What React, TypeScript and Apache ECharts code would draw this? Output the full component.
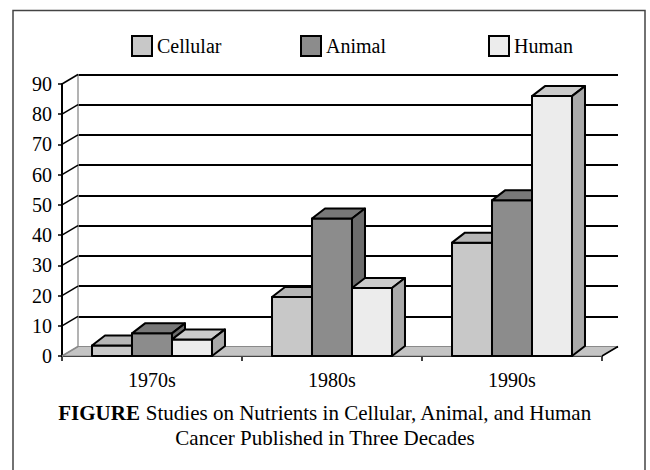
import React, { useEffect, useRef } from 'react';
import * as echarts from 'echarts';

const categories = ['1970s', '1980s', '1990s'];
const seriesNames = ['Cellular', 'Animal', 'Human'];
const cellular = [3.5, 19.5, 37.5];
const animal = [7.5, 45.5, 51.5];
const human = [5.5, 22.5, 86];
const yTicks = [0, 10, 20, 30, 40, 50, 60, 70, 80, 90];

const FONT = '"Liberation Serif", "DejaVu Serif", serif';

// layout constants
const DX = 16;
const DY = 9.5;
const BDX = 13;
const BDY = 10;
const faces = [
  { front: '#c8c8c8', top: '#b6b6b6', side: '#a8a8a8' },
  { front: '#8c8c8c', top: '#787878', side: '#6c6c6c' },
  { front: '#ececec', top: '#cbcbcb', side: '#a9a9a9' },
];
const legendLefts = [131, 300, 488];

export default function App() {
  const ref = useRef<HTMLDivElement>(null);
  useEffect(() => {
    document.body.style.margin = '0';
    const chart = echarts.init(ref.current!, null, { renderer: 'svg' });
    const values = [cellular, animal, human];

    const barSeries = seriesNames.map((name, sIdx) => ({
      name,
      type: 'custom',
      xAxisIndex: 0,
      yAxisIndex: 0,
      z: 5,
      itemStyle: { color: faces[sIdx].front, borderColor: '#000', borderWidth: 2 },
      encode: { x: 0, y: 1 },
      data: values[sIdx].map((v, i) => [i, v]),
      renderItem: (params: any, api: any) => {
        const ci = api.value(0);
        const v = api.value(1);
        const base = api.coord([ci, 0]);
        const tp = api.coord([ci, v]);
        const catW = api.size([1, 0])[0];
        const bw = catW * 0.2222;
        const x0 = base[0] - 1.5 * bw + sIdx * bw;
        const x1 = x0 + bw;
        const y0 = base[1];
        const y1 = tp[1];
        const st = { stroke: '#000', lineWidth: 2, lineJoin: 'round' };
        return {
          type: 'group',
          children: [
            { type: 'polygon', shape: { points: [[x0, y0], [x1, y0], [x1, y1], [x0, y1]] }, style: { ...st, fill: faces[sIdx].front } },
            { type: 'polygon', shape: { points: [[x0, y1], [x1, y1], [x1 + BDX, y1 - BDY], [x0 + BDX, y1 - BDY]] }, style: { ...st, fill: faces[sIdx].top } },
            { type: 'polygon', shape: { points: [[x1, y0], [x1 + BDX, y0 - BDY], [x1 + BDX, y1 - BDY], [x1, y1]] }, style: { ...st, fill: faces[sIdx].side } },
          ],
        };
      },
    }));

    const frameSeries = {
      name: 'frame',
      type: 'custom',
      xAxisIndex: 0,
      yAxisIndex: 0,
      z: 3,
      silent: true,
      encode: { x: 0, y: 1 },
      data: yTicks.map((v) => [0, v]),
      renderItem: (params: any, api: any) => {
        const v = api.value(1);
        const p = api.coord([0, v]);
        const catW = api.size([1, 0])[0];
        const xL = p[0] - catW / 2;
        const y = p[1];
        const children: any[] = [];
        if (v === 0) {
          const xR = xL + catW * categories.length;
          children.push({
            type: 'polygon',
            shape: { points: [[xL, y], [xR, y], [xR + DX, y - DY], [xL + DX, y - DY]] },
            style: { fill: '#c4c4c4', stroke: '#8a8a8a', lineWidth: 1 },
          });
          children.push({
            type: 'line',
            shape: { x1: xR, y1: y, x2: xR + DX, y2: y - DY },
            style: { stroke: '#000', lineWidth: 1.5 },
          });
        }
        children.push({
          type: 'line',
          shape: { x1: xL, y1: y, x2: xL + DX, y2: y - DY },
          style: { stroke: v === 0 ? '#8a8a8a' : '#000', lineWidth: 1.5 },
        });
        return { type: 'group', children };
      },
    };

    chart.setOption({
      animation: false,
      backgroundColor: '#fff',
      title: {
        text: '{b|FIGURE} Studies on Nutrients in Cellular, Animal, and Human\nCancer Published in Three Decades',
        left: 'center',
        top: 400,
        padding: 0,
        textStyle: {
          fontFamily: FONT,
          fontSize: 21,
          fontWeight: 'normal',
          color: '#000',
          lineHeight: 25,
          rich: { b: { fontFamily: FONT, fontSize: 21, fontWeight: 'bold', color: '#000', lineHeight: 25 } },
        },
      },
      legend: seriesNames.map((n, i) => ({
        data: [n],
        left: legendLefts[i],
        top: 35,
        padding: 0,
        itemWidth: 20,
        itemHeight: 20,
        icon: 'rect',
        selectedMode: false,
        itemStyle: { borderColor: '#000', borderWidth: 2 },
        textStyle: { fontFamily: FONT, fontSize: 20, color: '#000' },
      })),
      grid: [
        { left: 62, top: 84, width: 540, height: 272 },
        { left: 62 + DX, top: 84 - DY, width: 540, height: 272 },
      ],
      xAxis: [
        {
          gridIndex: 0,
          type: 'category',
          data: categories,
          boundaryGap: true,
          axisLine: { show: true, lineStyle: { color: '#000', width: 2 } },
          axisTick: { show: true, length: 5, lineStyle: { color: '#000', width: 1.5 } },
          axisLabel: { fontFamily: FONT, fontSize: 20, color: '#000', margin: 14 },
          splitLine: { show: false },
        },
        { gridIndex: 1, type: 'category', data: categories, show: false },
      ],
      yAxis: [
        {
          gridIndex: 0,
          type: 'value',
          min: 0,
          max: 90,
          interval: 10,
          axisLine: { show: true, lineStyle: { color: '#000', width: 2 } },
          axisTick: { show: true, length: 4, lineStyle: { color: '#000', width: 1.5 } },
          axisLabel: { fontFamily: FONT, fontSize: 20, color: '#000', margin: 10 },
          splitLine: { show: false },
        },
        {
          gridIndex: 1,
          type: 'value',
          min: 0,
          max: 90,
          interval: 10,
          axisLine: { show: true, lineStyle: { color: '#9a9a9a', width: 1.5 } },
          axisTick: { show: false },
          axisLabel: { show: false },
          splitLine: { show: true, lineStyle: { color: '#000', width: 2 } },
        },
      ],
      graphic: [
        {
          type: 'rect',
          silent: true,
          shape: { x: 13, y: 10.5, width: 632, height: 500 },
          style: { fill: 'none', stroke: '#444', lineWidth: 1.5 },
        },
      ],
      series: [frameSeries, ...barSeries],
    });
    return () => chart.dispose();
  }, []);
  return <div ref={ref} style={{ width: 650, height: 470 }} />;
}
